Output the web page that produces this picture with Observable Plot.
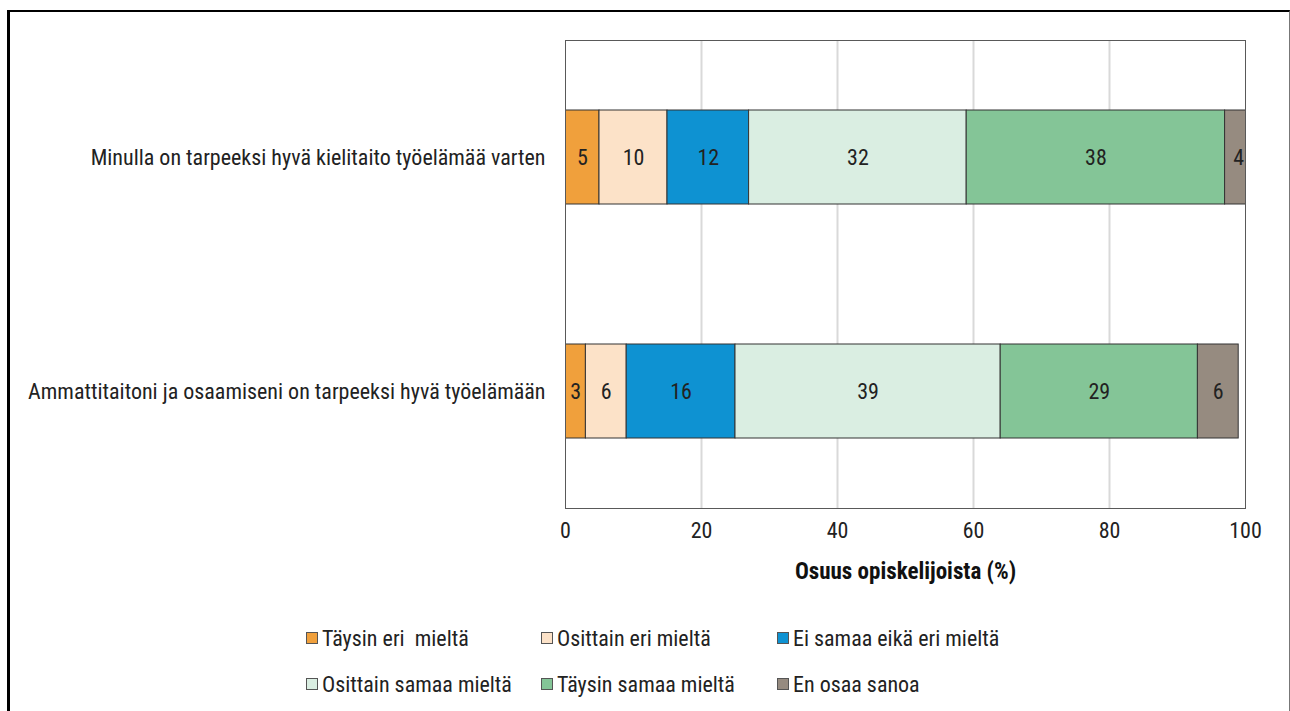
<!DOCTYPE html>
<html>
<head>
<meta charset="utf-8">
<script src="https://cdn.jsdelivr.net/npm/d3@7"></script>
<script src="https://cdn.jsdelivr.net/npm/@observablehq/plot@0.6"></script>
<style>
  html, body { margin: 0; padding: 0; background: #fff; width: 1290px; height: 711px; overflow: hidden; }
  body { font-family: "Liberation Sans Narrow", "Arial Narrow", "Roboto Condensed", sans-serif; }
  #frame { position: absolute; left: 7px; top: 10px; width: 1279px; height: 760px; border-top: 2px solid #000; border-left: 3px solid #000; border-right: 1px solid #777; }
  #chart { position: absolute; left: 0; top: 0; }
  #legend { position: absolute; left: 0; top: 0; width: 1290px; height: 711px; pointer-events: none; }
  .item { position: absolute; display: flex; align-items: center; font-size: 22px; color: #222; white-space: pre; }
  .sw { width: 10px; height: 10px; border: 1px solid #555; margin-right: 4px; }
</style>
</head>
<body>
<div id="frame"></div>
<div id="chart"></div>
<div id="legend"></div>
<script>
const questions = [
  "Minulla on tarpeeksi hyvä kielitaito työelämää varten",
  "Ammattitaitoni ja osaamiseni on tarpeeksi hyvä työelämään"
];
const responses = [
  "Täysin eri  mieltä",
  "Osittain eri mieltä",
  "Ei samaa eikä eri mieltä",
  "Osittain samaa mieltä",
  "Täysin samaa mieltä",
  "En osaa sanoa"
];
const colors = ["#F0A03C", "#FCE2C8", "#0E92D2", "#DAEEE2", "#84C597", "#968B80"];
const valuesQ1 = [5, 10, 12, 32, 38, 4];
const valuesQ2 = [3, 6, 16, 39, 29, 6];
const xTicks = [0, 20, 40, 60, 80, 100];
const xLabel = "Osuus opiskelijoista (%)";

const rows = [];
[valuesQ1, valuesQ2].forEach((vals, qi) => {
  vals.forEach((v, ri) => rows.push({question: questions[qi], response: responses[ri], value: v}));
});

const font = '"Liberation Sans Narrow", "Arial Narrow", "Roboto Condensed", sans-serif';

const plot = Plot.plot({
  width: 1290,
  height: 600,
  marginLeft: 565,
  marginRight: 45,
  marginTop: 40,
  marginBottom: 92,
  style: {background: "transparent", fontFamily: font, fontSize: "21px", color: "#222"},
  x: {domain: [0, 100], ticks: xTicks, label: null},
  y: {domain: questions, paddingInner: 0.6, paddingOuter: 0.3, label: null},
  color: {domain: responses, range: colors},
  marks: [
    Plot.gridX(xTicks.slice(1, -1), {stroke: "#d9d9d9", strokeWidth: 2, strokeOpacity: 1}),
    Plot.barX(rows, Plot.stackX({x: "value", y: "question", fill: "response", stroke: "#333", strokeWidth: 1, clip: true, inset: 0})),
    Plot.text(rows, Plot.stackX({x: "value", y: "question", text: d => String(d.value), fill: "#222", fontSize: 22})),
    Plot.frame({stroke: "#595959", strokeWidth: 1}),
    Plot.axisX(xTicks, {tickSize: 0, tickPadding: 14, fontSize: 22, fill: "#222"}),
    Plot.axisY({tickSize: 0, tickPadding: 20, fontSize: 22, fill: "#222"}),
    Plot.text([xLabel], {frameAnchor: "bottom", dy: 70, fontWeight: "bold", fontSize: 23, fill: "#111"})
  ]
});
document.getElementById("chart").appendChild(plot);

const legendPos = [
  [306, 638], [541, 638], [777, 638],
  [306, 684], [541, 684], [777, 684]
];
const leg = document.getElementById("legend");
responses.forEach((r, i) => {
  const el = document.createElement("div");
  el.className = "item";
  el.style.left = legendPos[i][0] + "px";
  el.style.top = (legendPos[i][1] - 13) + "px";
  el.style.height = "26px";
  const sw = document.createElement("div");
  sw.className = "sw";
  sw.style.background = colors[i];
  el.appendChild(sw);
  const t = document.createElement("span");
  t.textContent = r;
  el.appendChild(t);
  leg.appendChild(el);
});
</script>
</body>
</html>
